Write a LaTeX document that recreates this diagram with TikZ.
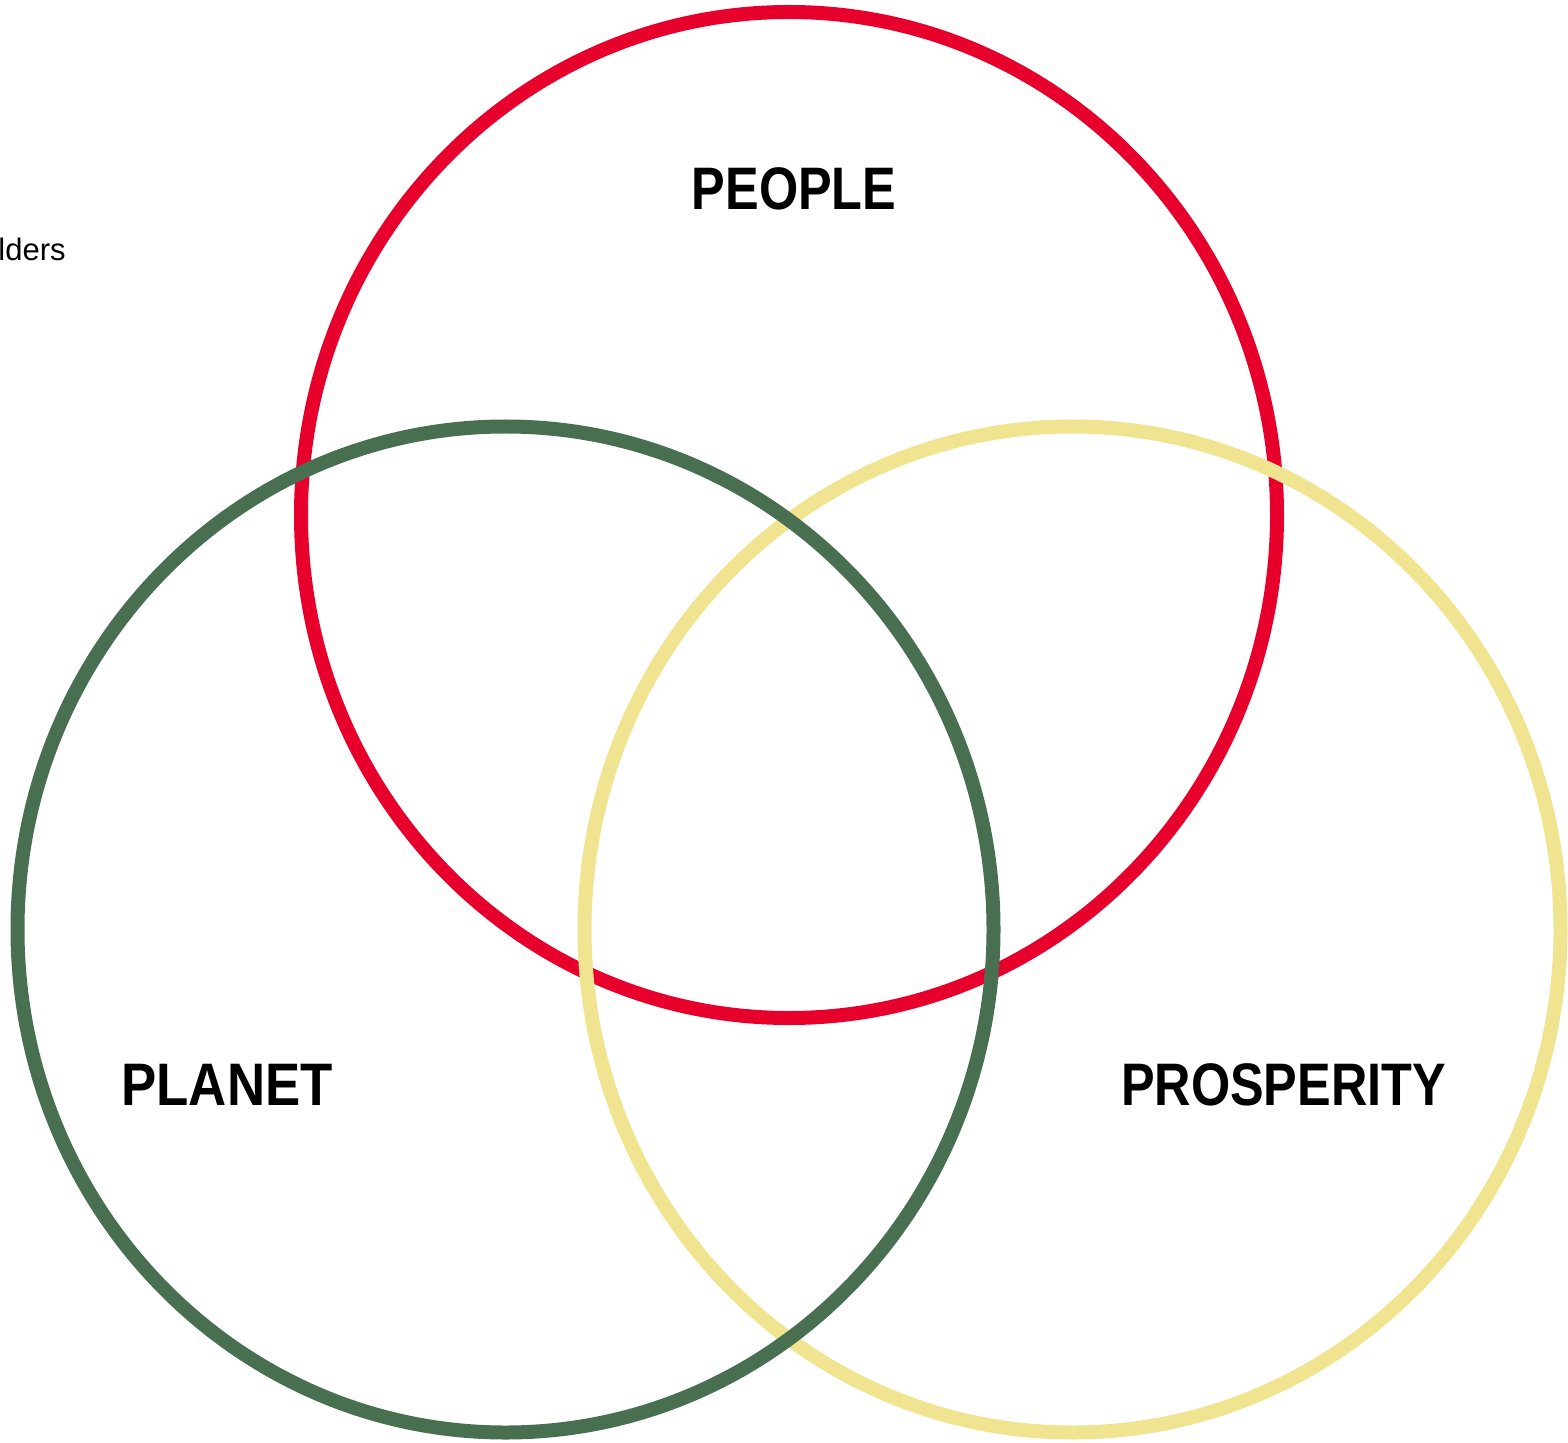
\documentclass[tikz,border=0pt]{standalone}
\usepackage{fontspec}
\setmainfont{Liberation Sans}
\definecolor{peoplered}{RGB}{232,0,45}
\definecolor{planetgreen}{RGB}{72,112,80}
\definecolor{prospyellow}{RGB}{240,228,144}
\tikzset{
  ring/.style={line width=7pt},
  pillar/.style={anchor=base,inner sep=0pt,font=\bfseries\fontsize{30}{36}\selectfont},
}
\newcommand{\squeeze}[2][0.84]{\scalebox{#1}[1]{#2}}

\begin{document}
\begin{tikzpicture}[x=0.5pt,y=-0.5pt]
  \useasboundingbox (0,0) rectangle (1568,1443);
  \coordinate (people) at (789,515);
  \coordinate (planet) at (505.5,929.5);
  \coordinate (prosperity) at (1072.5,929.5);
  \draw[ring,peoplered] (people) ellipse[x radius=488, y radius=503];
  \draw[ring,prospyellow] (prosperity) ellipse[x radius=488, y radius=503];
  \draw[ring,planetgreen] (planet) ellipse[x radius=488, y radius=503];
  \node[pillar] (peoplelbl) at (794,210) {\squeeze{PEOPLE}};
  \node[pillar] (planetlbl) at (227,1105) {\squeeze[0.88]{PLANET}};
  \node[pillar] (prosplbl) at (1283.5,1105) {\squeeze{PROSPERITY}};
  \node[anchor=base east,inner sep=0pt,font=\fontsize{15.5}{18}\selectfont] (stake) at (66,261) {lders};
\end{tikzpicture}
\end{document}
